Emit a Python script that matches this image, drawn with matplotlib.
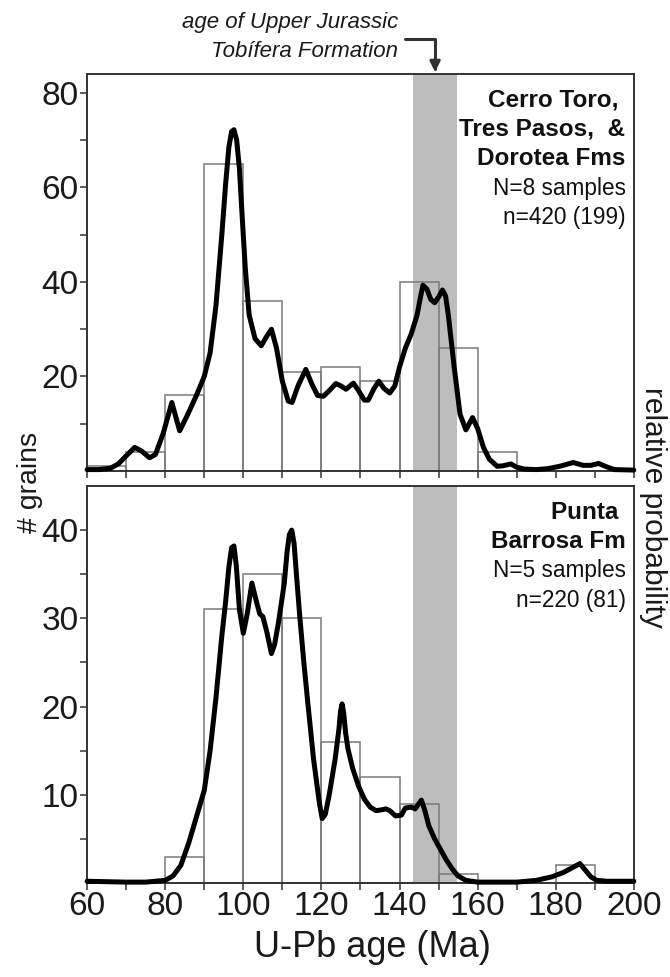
import numpy as np
import matplotlib
matplotlib.use('Agg')
import matplotlib.pyplot as plt

plt.rcParams['font.family'] = ['Liberation Sans', 'DejaVu Sans']

# histogram bins (10 Ma wide, left edges)
bin_left = [60, 70, 80, 90, 100, 110, 120, 130, 140, 150, 160, 170, 180, 190]
top_counts = [1, 4, 16, 65, 36, 21, 22, 19, 40, 26, 4, 0, 0, 0]
bot_counts = [0, 0, 3, 31, 35, 30, 16, 12, 9, 1, 0, 0, 2, 0]

# probability density curves (age, value on count scale)
top_age = [60, 63, 66, 68, 70, 72.2, 74, 76, 77.5, 79.5, 81.7, 83.7, 85.5, 88, 90,
           91.5, 93, 94.5, 95.5, 96.3, 97.0, 97.6, 98.3, 99.0, 99.7, 100.5, 101.5, 103,
           104.6, 106, 107.2, 108.5, 110, 111.5, 112.5, 114, 116, 117.5, 119, 120.5, 122,
           123.7, 125, 126.3, 128.2, 129.5, 131, 132, 133.5, 134.7, 136, 137.5, 138.8,
           140, 141.5, 143, 144.5, 145.3, 146, 147, 148, 149, 150, 151, 151.8, 152.5, 154,
           155.5, 157, 158.7, 160, 161.5, 163, 165, 166.5, 168.5, 170, 172, 175, 178, 181,
           184.5, 187, 189, 191, 193, 195, 200]
top_prob = [0.3, 0.3, 0.6, 1.5, 3.2, 5.0, 4.2, 2.8, 3.5, 8, 14.5, 8.5, 11.5, 16, 20,
            25, 35, 50, 61, 68.5, 71.8, 72.2, 70, 64, 54, 43, 33, 28,
            26.5, 28.5, 30, 26, 19, 14.8, 14.5, 18, 21.5, 18.5, 16, 15.8, 17,
            18.5, 18, 17.3, 18.6, 17, 15, 15, 17.5, 19, 17.5, 16.5, 18,
            22, 26, 29, 33, 36.5, 39.3, 38.5, 36.3, 35.6, 36.8, 38.3, 37, 33, 22,
            12, 8.7, 11.3, 9, 5, 2.5, 1, 1.1, 1.5, 0.8, 0.4, 0.3, 0.5, 1.0,
            1.8, 1.2, 1.2, 1.6, 0.9, 0.3, 0.2]

bot_age = [60, 70, 75, 80, 82, 84, 86, 88, 90, 91.5, 93, 94.5, 95.5, 96.3, 97.0, 97.6,
           98.2, 99, 100, 101, 102.2, 103.3, 104.2, 105, 106, 107.2, 108, 109, 110.5,
           111.2, 111.8, 112.4, 113.0, 113.6, 114.5, 115.5, 116.5, 118, 119.5, 120.2, 121,
           122, 123.5, 124.5, 124.9, 125.3, 125.7, 126.2, 126.8, 128, 129.5, 131, 132.5,
           134, 135.5, 136.5, 137.5, 139, 140.5, 141.5, 143, 144, 145.6, 146.5, 147.5,
           149, 150.5, 152, 153.5, 155, 157, 160, 170, 175, 179, 182, 184.5, 186.2, 187.5,
           189, 190.5, 193, 200]
bot_prob = [0.2, 0.1, 0.1, 0.3, 0.8, 2, 4.5, 7.5, 10.5, 15, 21, 28, 32, 35.8, 38, 38.2,
            36, 31, 28.3, 30.5, 34, 32, 30.5, 30.2, 28.5, 26, 27, 29.5, 34,
            37.5, 39.5, 40, 38.5, 35, 30, 25, 20.5, 14, 9, 7.3, 7.8,
            10, 14, 17.5, 19.5, 20.3, 19.3, 17, 15.2, 13, 11, 9.5, 8.6,
            8.2, 8.3, 8.4, 8.2, 7.6, 7.7, 8.5, 8.6, 8.4, 9.4, 8.2, 6.5,
            5, 3.8, 2.6, 1.6, 0.8, 0.3, 0.1, 0.1, 0.3, 0.7, 1.2, 1.8, 2.2, 1.5,
            0.7, 0.3, 0.2, 0.2]

# age range of the Upper Jurassic Tobifera Formation
tob_range = [143.5, 154.7]

top_lines = [('Cerro Toro, ', 'bold'), ('Tres Pasos,  &', 'bold'), ('Dorotea Fms', 'bold'),
             ('N=8 samples', 'normal'), ('n=420 (199)', 'normal')]
bot_lines = [('Punta ', 'bold'), ('Barrosa Fm', 'bold'),
             ('N=5 samples', 'normal'), ('n=220 (81)', 'normal')]

fig = plt.figure(figsize=(6.7, 9.77), dpi=100)
ax1 = fig.add_axes([0.130, 0.5179, 0.816, 0.4064])
ax2 = fig.add_axes([0.130, 0.0962, 0.816, 0.4064])

spine_col = '#333333'
txt_col = '#1a1a1a'
for ax, counts, age, prob, ymax, lines in [(ax1, top_counts, top_age, top_prob, 84, top_lines),
                                           (ax2, bot_counts, bot_age, bot_prob, 45, bot_lines)]:
    ax.axvspan(tob_range[0], tob_range[1], color='#bdbdbd', lw=0, zorder=1)
    ax.bar(bin_left, counts, width=10, align='edge', fill=False,
           edgecolor='#7a7a7a', linewidth=1.1, zorder=2)
    ax.plot(age, prob, color='black', lw=3.6, solid_joinstyle='round',
            solid_capstyle='round', zorder=3, clip_on=False)
    ax.set_xlim(60, 200)
    ax.set_ylim(0, ymax)
    for s in ax.spines.values():
        s.set_color(spine_col)
        s.set_linewidth(1.4)
    ax.set_xticks(np.arange(60, 201, 20))
    ax.set_xticks(np.arange(70, 200, 20), minor=True)
    ax.tick_params(axis='both', which='both', direction='out', color=spine_col,
                   width=1.1, length=5, labelsize=24, labelcolor=txt_col, pad=1)
    # stacked labels in the upper right corner
    y = 0.918
    for txt, wt in lines:
        ax.text(0.985, y, txt, transform=ax.transAxes, ha='right', va='baseline',
                fontsize=17.5 if wt == 'bold' else 16.3, fontweight=wt, color='#111111')
        y -= 0.074

ax1.set_yticks([20, 40, 60, 80])
ax1.set_yticks([10, 30, 50, 70], minor=True)
ax1.tick_params(axis='x', labelbottom=False)
ax2.set_yticks([10, 20, 30, 40])
ax2.set_yticks([5, 15, 25, 35], minor=True)

ax2.set_xlabel('U-Pb age (Ma)', fontsize=26, color=txt_col)
ax2.xaxis.set_label_coords((372 - 87) / 547, -(930 - 883) / 397)
fig.text(30 / 670, 1 - 482 / 977, '# grains', rotation=90, ha='center', va='center',
         fontsize=20.5, color=txt_col)
fig.text(653 / 670, 1 - 507 / 977, 'relative probability', rotation=270, ha='center',
         va='center', fontsize=21.5, color=txt_col)

# annotation for the Tobifera band
fig.text(398 / 670, 1 - 28 / 977, 'age of Upper Jurassic', ha='right', va='baseline',
         fontsize=16, style='italic', color=txt_col)
fig.text(398 / 670, 1 - 57 / 977, 'Tobífera Formation', ha='right', va='baseline',
         fontsize=16, style='italic', color=txt_col)
ax1.annotate('', xy=(sum(tob_range) / 2, 1.005), xycoords=('data', 'axes fraction'),
             xytext=(405, 977 - 39), textcoords='figure pixels',
             arrowprops=dict(arrowstyle='-|>', connectionstyle='angle,angleA=0,angleB=90,rad=0',
                             color='#333333', lw=2.2, shrinkA=0, shrinkB=0, mutation_scale=15),
             annotation_clip=False)

fig.savefig('out.png', dpi=100)
